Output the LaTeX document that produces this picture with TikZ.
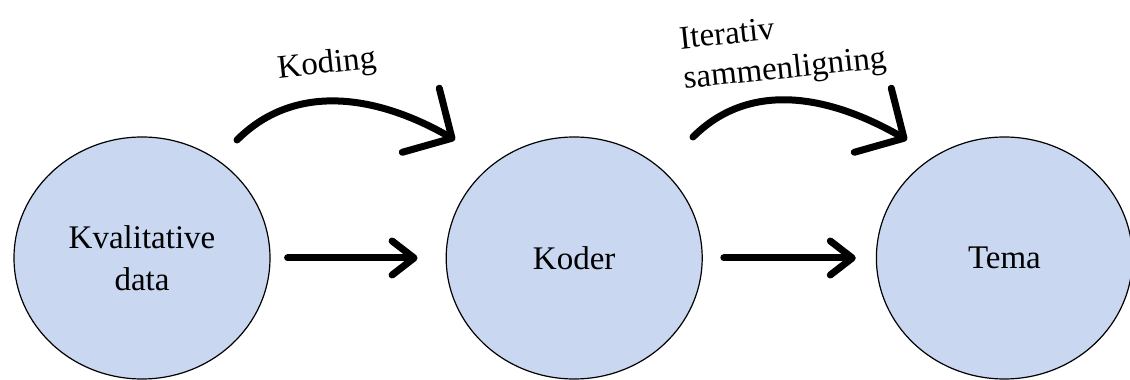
\documentclass[tikz,border=0pt]{standalone}
\usepackage{fontspec}
\setmainfont{Liberation Serif}
\usetikzlibrary{arrows.meta,shapes.geometric,positioning}
\definecolor{stagefill}{RGB}{201,216,240}

\begin{document}
\begin{tikzpicture}[x=1pt, y=1pt,
		stage/.style={ellipse, draw, line width=1.2pt, fill=stagefill, minimum width=256pt, minimum height=242pt, inner sep=0pt, align=center, font=\fontsize{33}{42}\selectfont},
		flow/.style={line width=7pt, line cap=round, -{Straight Barb[length=22pt, width=34pt, round]}},
		bendarrow/.style={line width=7pt, line cap=round, -{Straight Barb[length=36pt, width=74pt, round]}},
		tag/.style={font=\fontsize{33}{40}\selectfont, rotate=6, align=left}]
	\useasboundingbox (0,0) rectangle (1130,380);
	\node[stage] (kval) at (142,122) {Kvalitative\\data};
	\node[stage, right=175pt of kval] (koder) {Koder};
	\node[stage, right=173pt of koder] (tema) {Tema};
	% straight arrows between the circles
	\draw[flow] ([xshift=17pt]kval.east) -- ([xshift=-28pt]koder.west);
	\draw[flow] ([xshift=21pt]koder.east) -- ([xshift=-20pt]tema.west);
	% bent arrows above, with their labels
	\coordinate (c1a) at (237,240);
	\coordinate (c1b) at (455,240);
	\coordinate (c2a) at (693,243);
	\coordinate (c2b) at (907,240);
	\draw[bendarrow] (c1a) to[out=45, in=150] (c1b);
	\draw[bendarrow] (c2a) to[out=45, in=150] (c2b);
	\node[tag] (koding) at (327,315) {Koding};
	\node[tag] (iter) at (783,329) {Iterativ\\sammenligning};
\end{tikzpicture}
\end{document}
